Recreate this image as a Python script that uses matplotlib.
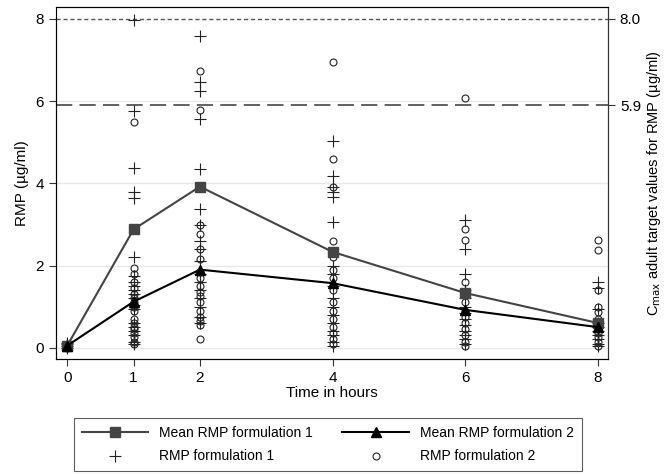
import matplotlib.pyplot as plt

plt.rcParams['font.family'] = ['Liberation Sans', 'DejaVu Sans']

times = [0, 1, 2, 4, 6, 8]
mean_f1 = [0.05, 2.88, 3.92, 2.33, 1.33, 0.6]
mean_f2 = [0.05, 1.12, 1.9, 1.57, 0.92, 0.5]

# individual concentrations per sampling time
rmp_f1 = {
    0: [0.1, 0.05, 0.0, 0.12],
    1: [7.97, 5.77, 4.37, 3.8, 3.65, 2.2, 1.75, 1.6, 1.5, 1.4, 1.3, 1.2,
        1.05, 0.95, 0.6, 0.5, 0.4, 0.3, 0.15, 0.1],
    2: [7.58, 6.46, 6.24, 5.57, 4.35, 3.37, 2.99, 2.6, 2.4, 2.1, 1.8, 1.6,
        1.4, 1.2, 1.0, 0.75, 0.6],
    4: [5.04, 4.19, 3.9, 3.78, 3.66, 3.07, 2.0, 1.8, 1.5, 1.2, 1.0, 0.8,
        0.6, 0.4, 0.3, 0.15, 0.05],
    6: [3.1, 2.39, 1.79, 1.4, 1.2, 1.0, 0.85, 0.7, 0.55, 0.4, 0.3, 0.2, 0.1],
    8: [1.59, 1.45, 0.95, 0.6, 0.5, 0.4, 0.3, 0.2, 0.1, 0.05],
}
rmp_f2 = {
    0: [0.08, 0.03, 0.0],
    1: [5.49, 1.95, 1.8, 1.6, 1.45, 1.3, 1.2, 1.1, 1.0, 0.9, 0.7, 0.6, 0.5,
        0.45, 0.35, 0.25, 0.15, 0.1],
    2: [6.73, 5.79, 2.99, 2.76, 2.4, 2.15, 1.85, 1.7, 1.5, 1.35, 1.25, 1.1,
        0.9, 0.75, 0.65, 0.55, 0.2],
    4: [6.95, 4.58, 3.9, 2.59, 2.2, 1.9, 1.7, 1.4, 1.1, 0.9, 0.7, 0.5, 0.35,
        0.2, 0.1],
    6: [6.08, 2.88, 2.61, 1.59, 1.3, 1.1, 0.9, 0.75, 0.6, 0.45, 0.3, 0.15, 0.05],
    8: [2.62, 2.38, 1.4, 1.0, 0.88, 0.7, 0.55, 0.45, 0.35, 0.25, 0.15, 0.05],
}
targets = [5.9, 8.0]
target_labels = ['5.9', '8.0']

fig = plt.figure(figsize=(6.66, 4.74), dpi=100)
ax = fig.add_axes([0.084, 0.2426, 0.829, 0.7426])

for y in [0, 2, 4, 6]:
    ax.axhline(y, color='#e8e8e8', lw=1, zorder=0)
ax.axhline(targets[0], color='#555555', lw=1.3, dashes=(9, 4), zorder=1)
ax.axhline(targets[1], color='#555555', lw=1.0, dashes=(3, 2), zorder=1)

x1 = [t for t in times for _ in rmp_f1[t]]
y1 = [v for t in times for v in rmp_f1[t]]
x2 = [t for t in times for _ in rmp_f2[t]]
y2 = [v for t in times for v in rmp_f2[t]]
h3, = ax.plot(x1, y1, ls='none', marker='+', ms=8, mew=0.8, color='#222222',
              label='RMP formulation 1', zorder=2)
h4, = ax.plot(x2, y2, ls='none', marker='o', ms=5, mew=0.8, mfc='none',
              mec='#222222', label='RMP formulation 2', zorder=2)
h1, = ax.plot(times, mean_f1, color='#444444', lw=1.5, marker='s', ms=7,
              label='Mean RMP formulation 1', zorder=3)
h2, = ax.plot(times, mean_f2, color='black', lw=1.5, marker='^', ms=7,
              label='Mean RMP formulation 2', zorder=3)

ax.set_xlim(-0.17, 8.15)
ax.set_ylim(-0.275, 8.29)
ax.set_xticks(times)
ax.set_yticks([0, 2, 4, 6, 8])
ax.tick_params(labelsize=11, direction='out', length=5, color='#333333')
ax.set_xlabel('Time in hours', fontsize=11, labelpad=1)
ax.set_ylabel('RMP (µg/ml)', fontsize=11, labelpad=5)
for s in ax.spines.values():
    s.set_color('#333333')
ax.spines['left'].set_bounds(-0.275, 8.05)

ax2 = ax.twinx()
ax2.set_ylim(ax.get_ylim())
ax2.set_yticks(targets)
ax2.set_yticklabels(target_labels)
ax2.tick_params(labelsize=11, direction='out', length=5, color='#333333')
ax2.set_ylabel(r'C$_{\mathrm{max}}$ adult target values for RMP (µg/ml)',
               fontsize=10.5, labelpad=3)
ax2.spines['right'].set_color('#333333')

# columns: formulation 1 on the left, formulation 2 on the right
leg = fig.legend([h1, h3, h2, h4],
                 ['Mean RMP formulation 1', 'RMP formulation 1',
                  'Mean RMP formulation 2', 'RMP formulation 2'],
                 ncol=2, loc='upper left', bbox_to_anchor=(0.111, 0.118),
                 borderaxespad=0, fontsize=10, fancybox=False,
                 edgecolor='#333333', handlelength=4.8, handletextpad=0.8,
                 borderpad=0.55, labelspacing=0.7, columnspacing=2.1)
leg.get_frame().set_linewidth(0.8)

fig.savefig('out.png', dpi=100)
